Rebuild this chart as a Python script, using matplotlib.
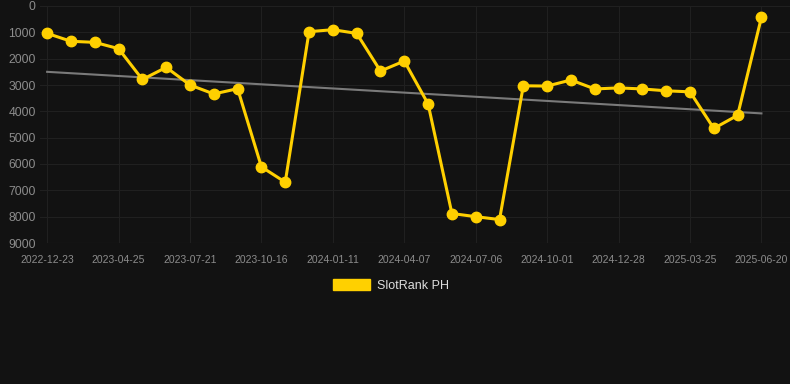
import numpy as np
import matplotlib.pyplot as plt

plt.rcParams['font.family'] = ['Liberation Sans', 'DejaVu Sans']

tick_labels = ['2022-12-23', '2023-04-25', '2023-07-21', '2023-10-16', '2024-01-11',
               '2024-04-07', '2024-07-06', '2024-10-01', '2024-12-28', '2025-03-25',
               '2025-06-20']

# rank values, one per point (every 3rd point carries a date label)
rank = [1040, 1340, 1380, 1620, 2790, 2330, 3000, 3340, 3140, 6110,
        6690, 975, 900, 1040, 2470, 2090, 3720, 7880, 8000, 8110,
        3030, 3040, 2810, 3150, 3110, 3150, 3220, 3260, 4650, 4150,
        430]

bg = '#121212'
yellow = '#FFD000'

x = np.arange(len(rank))
slope, icpt = np.polyfit(x, rank, 1)
trend = slope * x + icpt

fig = plt.figure(figsize=(7.9, 3.84), dpi=100, facecolor=bg)
ax = fig.add_axes([40 / 790, 1 - 243 / 384, 750 / 790, 237 / 384], facecolor=bg)

ax.plot(x, trend, color='#7a7a7a', lw=1.5, zorder=2)
ax.plot(x, rank, color=yellow, lw=2.2, marker='o', ms=7.5, zorder=3)

ax.set_xlim(-0.3, 31.2)
ax.set_ylim(9000, 0)
ax.set_yticks(np.arange(0, 9001, 1000))
ax.set_xticks(x[::3])
ax.set_xticklabels(tick_labels)

ax.grid(True, color='#202020', lw=0.8)
ax.set_axisbelow(True)
for s in ax.spines.values():
    s.set_visible(False)
ax.axhline(9000, color='#303030', lw=0.8, xmin=0.3 / 31.5, zorder=1)
ax.tick_params(axis='y', length=0, pad=3, labelsize=8.7, labelcolor='#8c8c8c')
ax.tick_params(axis='x', length=0, pad=8.7, labelsize=7.5, labelcolor='#8c8c8c')

leg = fig.legend(handles=[plt.Rectangle((0, 0), 1, 1, color=yellow)],
                 labels=['SlotRank PH'], loc='center', bbox_to_anchor=(391 / 790, 1 - 285.5 / 384),
                 frameon=False, handlelength=3.0, handleheight=1.0, handletextpad=0.55,
                 fontsize=9, labelcolor='#dddddd')

fig.savefig('out.png', dpi=100, facecolor=bg)
